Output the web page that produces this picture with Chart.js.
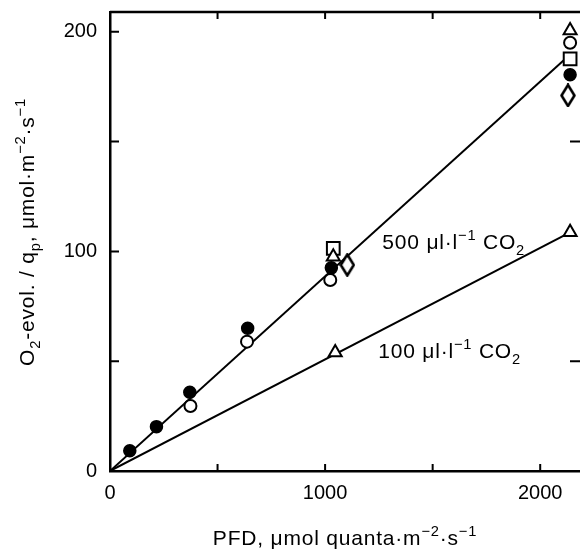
<!DOCTYPE html>
<html lang="en">
<head>
<meta charset="UTF-8">
<script src="https://cdn.jsdelivr.net/npm/chart.js"></script>
<style>
  body { margin: 0; background: #fff; }
</style>
</head>
<body>
<canvas id="myChart" width="580" height="550"></canvas>
<script>
// values (x: PFD, y: O2 evolution / qp)
const filledX = [92, 216, 371, 640, 1029, 2139]
const filledY = [9.2, 20.2, 35.9, 65, 92.5, 180.4]
const openX = [374, 637, 1024, 2139]
const openY = [29.6, 58.9, 87, 195]
const squareX = [1038, 2139]
const squareY = [101.4, 187.7]
const tri500X = [1038, 2139]
const tri500Y = [97.5, 200.6]
const diamondX = [1103, 2129]
const diamondY = [93.8, 171]
const tri100X = [1047, 2139]
const tri100Y = [54, 108.7]
// fitted lines
const line500X = [0, 2139]
const line500Y = [0, 189.7]
const line100X = [0, 2139]
const line100Y = [0, 108.7]
// ticks
const xTicks = [500, 1000, 1500, 2000]
const xLabels = [0, 1000, 2000]
const yTicks = [50, 100, 150, 200]
const yLabels = [0, 100, 200]
const rightTicks = [50, 150]

const FONT = '"Liberation Sans", Arial, sans-serif'

function pts(xs, ys) {
  return xs.map((x, i) => ({x: x, y: ys[i]}))
}

// tall diamond marker
function diamond() {
  const c = document.createElement('canvas')
  c.width = 16; c.height = 24
  const g = c.getContext('2d')
  g.beginPath()
  g.moveTo(8, 1.5); g.lineTo(14.5, 12); g.lineTo(8, 22.5); g.lineTo(1.5, 12); g.closePath()
  g.fillStyle = '#fff'; g.fill()
  g.lineWidth = 2.6; g.strokeStyle = '#000'; g.stroke()
  return c
}

function rich(ctx, segs, x, y, size, align) {
  const fonts = segs.map(s => (s[1] ? size * 0.7 : size) + 'px ' + FONT)
  ctx.letterSpacing = '0.8px'
  let w = 0
  const ws = segs.map((s, i) => { ctx.font = fonts[i]; const m = ctx.measureText(s[0]).width; w += m; return m })
  let cx = align === 'center' ? x - w / 2 : x
  ctx.textAlign = 'left'
  ctx.textBaseline = 'alphabetic'
  segs.forEach((s, i) => {
    ctx.font = fonts[i]
    const dy = s[1] === 1 ? -size * 0.42 : s[1] === -1 ? size * 0.3 : 0
    ctx.fillText(s[0], cx, y + dy)
    cx += ws[i]
  })
}

const xTitle = [['PFD, μmol quanta·m', 0], ['−2', 1], ['·s', 0], ['−1', 1]]
const yTitle = [['O', 0], ['2', -1], ['-evol. / q', 0], ['p', -1], [', μmol·m', 0], ['−2', 1], ['·s', 0], ['−1', 1]]
const label500 = [['500 μl·l', 0], ['−1', 1], [' CO', 0], ['2', -1]]
const label100 = [['100 μl·l', 0], ['−1', 1], [' CO', 0], ['2', -1]]

const frame = {
  id: 'frame',
  afterDraw(chart) {
    const {ctx, chartArea: a, scales: {x, y}} = chart
    ctx.save()
    ctx.strokeStyle = '#000'
    ctx.lineWidth = 2.5
    ctx.beginPath()
    ctx.moveTo(a.left, a.top); ctx.lineTo(a.right, a.top)
    ctx.stroke()
    ctx.lineWidth = 2
    ctx.beginPath()
    xTicks.forEach(v => {
      const px = x.getPixelForValue(v)
      ctx.moveTo(px, a.bottom); ctx.lineTo(px, a.bottom - 7)
      ctx.moveTo(px, a.top); ctx.lineTo(px, a.top + 7)
    })
    yTicks.forEach(v => {
      const py = y.getPixelForValue(v)
      ctx.moveTo(a.left, py); ctx.lineTo(a.left + 9, py)
    })
    rightTicks.forEach(v => {
      const py = y.getPixelForValue(v)
      ctx.moveTo(a.right, py); ctx.lineTo(a.right - 10, py)
    })
    ctx.stroke()

    ctx.fillStyle = '#000'
    rich(ctx, label500, x.getPixelForValue(1266), y.getPixelForValue(101), 21, 'left')
    rich(ctx, label100, x.getPixelForValue(1247), y.getPixelForValue(51.5), 21, 'left')
    rich(ctx, xTitle, 345, 545, 21, 'center')
    ctx.translate(34, 232)
    ctx.rotate(-Math.PI / 2)
    rich(ctx, yTitle, 0, 0, 21, 'center')
    ctx.restore()
  }
}

const pointSet = (data, style, radius, fill, bw) => ({
  type: 'scatter', data: data, order: 0,
  pointStyle: style, pointRadius: radius, pointBackgroundColor: fill,
  pointBorderColor: '#000', pointBorderWidth: bw, showLine: false
})
const lineSet = (data) => ({
  type: 'line', data: data, order: 5, borderColor: '#000', borderWidth: 2,
  pointRadius: 0, fill: false, tension: 0
})

function noPad(s) {
  s.paddingLeft = 0; s.paddingRight = 0; s.paddingTop = 0; s.paddingBottom = 0
}

new Chart(document.getElementById('myChart'), {
  type: 'scatter',
  data: {
    datasets: [
      pointSet(pts(tri500X, tri500Y), 'triangle', 7.5, '#fff', 2),
      pointSet(pts(openX, openY), 'circle', 6, '#fff', 2),
      pointSet(pts(filledX, filledY), 'circle', 6, '#000', 1.5),
      pointSet(pts(squareX, squareY), 'rect', 9, '#fff', 2),
      pointSet(pts(diamondX, diamondY), diamond(), 10, '#fff', 2),
      pointSet(pts(tri100X, tri100Y), 'triangle', 7.5, '#fff', 2),
      lineSet(pts(line500X, line500Y)),
      lineSet(pts(line100X, line100Y))
    ]
  },
  options: {
    responsive: false,
    animation: false,
    layout: {autoPadding: false, padding: {top: 12, right: 0, left: 0, bottom: 0}},
    plugins: {legend: {display: false}, tooltip: {enabled: false}},
    scales: {
      x: {
        type: 'linear', min: 0, max: 2185,
        afterBuildTicks(s) { s.ticks = xLabels.map(v => ({value: v})) },
        afterFit(s) { s.height = 79; noPad(s) },
        border: {color: '#000', width: 2.5},
        grid: {display: false, drawTicks: false},
        ticks: {
          autoSkip: false, maxRotation: 0, padding: 10, color: '#000',
          font: {family: FONT, size: 20},
          callback: v => String(v)
        }
      },
      y: {
        type: 'linear', min: 0, max: 209,
        afterBuildTicks(s) { s.ticks = yLabels.map(v => ({value: v})) },
        afterFit(s) { s.width = 110; noPad(s) },
        border: {color: '#000', width: 2.5},
        grid: {display: false, drawTicks: false},
        ticks: {
          autoSkip: false, padding: 13, color: '#000',
          font: {family: FONT, size: 20},
          callback: v => String(v)
        }
      }
    }
  },
  plugins: [frame]
})
</script>
</body>
</html>
